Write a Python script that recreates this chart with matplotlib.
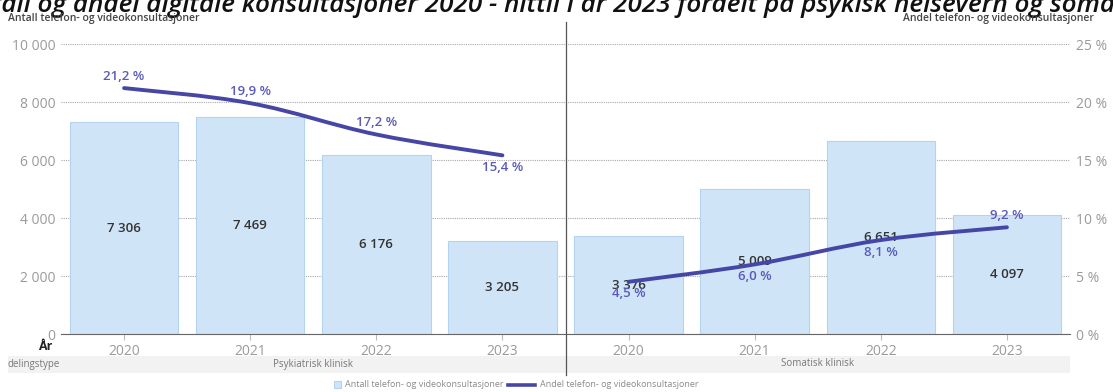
import numpy as np
import matplotlib
matplotlib.use("Agg")
import matplotlib.pyplot as plt
from matplotlib.path import Path
from matplotlib.patches import PathPatch, Rectangle
from matplotlib.lines import Line2D
from matplotlib.ticker import FuncFormatter

plt.rcParams['font.family'] = ['Open Sans', 'DejaVu Sans']

# --- data ---
years = ["2020", "2021", "2022", "2023", "2020", "2021", "2022", "2023"]
groups = ["Psykiatrisk klinisk", "Somatisk klinisk"]
antall = [7306, 7469, 6176, 3205, 3376, 5009, 6651, 4097]
andel_psyk = [21.2, 19.9, 17.2, 15.4]
andel_som = [4.5, 6.0, 8.1, 9.2]
andel_above = [True, True, True, False, False, False, False, True]

BAR_FILL = "#cfe4f7"
BAR_EDGE = "#b3d3f0"
LINE_COL = "#4646a6"
PCT_COL = "#5a5abb"
GREY = "#9a9a9a"


def fmt_num(v):
    return f"{v:,.0f}".replace(",", " ")


def smooth_path(xs, ys, k=0.18):
    # cubic bezier through the points (display style only)
    pts = np.column_stack([xs, ys])
    verts = [pts[0]]
    codes = [Path.MOVETO]
    n = len(pts)
    for i in range(n - 1):
        p0 = pts[max(i - 1, 0)]
        p1 = pts[i]
        p2 = pts[i + 1]
        p3 = pts[min(i + 2, n - 1)]
        c1 = p1 + (p2 - p0) * k
        c2 = p2 - (p3 - p1) * k
        verts += [c1, c2, p2]
        codes += [Path.CURVE4] * 3
    return Path(verts, codes)


fig = plt.figure(figsize=(11.13, 3.92), dpi=100)
W, H = 1113, 392
ax = fig.add_axes([61 / W, 1 - 334 / H, 1009 / W, 290 / H])
ax2 = ax.twinx()

x = np.arange(len(antall))
ax.bar(x, antall, width=0.86, color=BAR_FILL, edgecolor=BAR_EDGE, linewidth=0.8, zorder=2)
for xi, v in zip(x, antall):
    ax.text(xi, v / 2, fmt_num(v), ha="center", va="center", fontsize=9.5,
            color="#333333", fontweight="semibold", zorder=5)

ax.set_xlim(-0.5, len(antall) - 0.5)
ax.set_ylim(0, 10000)
ax.set_yticks(np.arange(0, 10001, 2000))
ax.yaxis.set_major_formatter(FuncFormatter(lambda v, p: fmt_num(v)))
ax.set_xticks(x)
ax.set_xticklabels(years)
ax.tick_params(axis="x", colors="#bbbbbb", labelcolor=GREY, labelsize=10, length=4, pad=3)
ax.tick_params(axis="y", length=0, labelcolor=GREY, labelsize=10, pad=4)
ax.grid(axis="y", color="#a8a8a8", linestyle=(0, (1, 1)), linewidth=0.8, zorder=0)
for s in ["top", "right", "left"]:
    ax.spines[s].set_visible(False)
ax.spines["bottom"].set_color("#666666")
ax.spines["bottom"].set_zorder(4)

ax2.set_ylim(0, 25)
ax2.set_yticks(np.arange(0, 26, 5))
ax2.yaxis.set_major_formatter(FuncFormatter(lambda v, p: f"{v:.0f} %"))
ax2.tick_params(axis="y", length=0, labelcolor=GREY, labelsize=10, pad=4)
for s in ax2.spines.values():
    s.set_visible(False)

andel_all = andel_psyk + andel_som
for seg_x, seg_y in [(x[:4], andel_psyk), (x[4:], andel_som)]:
    path = smooth_path(np.asarray(seg_x, float), np.asarray(seg_y, float))
    ax2.add_patch(PathPatch(path, facecolor="none", edgecolor=LINE_COL,
                            linewidth=2.8, capstyle="round", zorder=4))
for xi, v, up in zip(x, andel_all, andel_above):
    off = 4 if up else -4
    ax2.annotate(f"{v:.1f} %".replace(".", ","), (xi, v), xytext=(0, off),
                 textcoords="offset points", ha="center",
                 va="bottom" if up else "top", fontsize=9.5, color=PCT_COL,
                 fontweight="semibold", zorder=6)

# --- figure-level decorations ---
fig.text(-38 / W, 1 - 12 / H,
         "Antall og andel digitale konsultasjoner 2020 - hittil i år 2023 fordelt på psykisk helsevern og somatikk",
         fontsize=18.8, style="italic", fontweight="semibold", color="#111111",
         ha="left", va="baseline")
fig.text(8 / W, 1 - 18 / H, "Antall telefon- og videokonsultasjoner", fontsize=7.5,
         color="#444444", fontweight="semibold", ha="left", va="center")
fig.text(1094 / W, 1 - 18 / H, "Andel telefon- og videokonsultasjoner", fontsize=7.5,
         color="#444444", fontweight="semibold", ha="right", va="center")
fig.text(45 / W, 1 - 346 / H, "År", fontsize=9, fontweight="bold", color="#222222",
         ha="center", va="center")

# group band
fig.add_artist(Rectangle((8 / W, 1 - 373 / H), (1070 - 8) / W, 17 / H,
                         transform=fig.transFigure, facecolor="#f2f2f2", edgecolor="none", zorder=0))
fig.text(8 / W, 1 - 364 / H, "delingstype", fontsize=7, color="#777777", ha="left", va="center")
for gi, g in enumerate(groups):
    cx = ax.transData.transform((1.5 + 4 * gi, 0))[0] / W
    fig.text(cx, 1 - 364 / H, g, fontsize=7, color="#777777", ha="center", va="center")

# separator between groups
sep_x = ax.transData.transform((3.5, 0))[0] / W
fig.add_artist(Line2D([sep_x, sep_x], [1 - 375 / H, 1 - 22 / H], transform=fig.transFigure,
                      color="#555555", linewidth=0.9))

# legend
fig.add_artist(Rectangle((334 / W, 1 - 388 / H), 7 / W, 7 / H, transform=fig.transFigure,
                         facecolor=BAR_FILL, edgecolor=BAR_EDGE, linewidth=0.8))
fig.text(345 / W, 1 - 384.5 / H, "Antall telefon- og videokonsultasjoner", fontsize=6.5,
         color="#8a8a8a", ha="left", va="center")
fig.add_artist(Line2D([508 / W, 535 / W], [1 - 384.5 / H] * 2, transform=fig.transFigure,
                      color=LINE_COL, linewidth=2.6))
fig.text(540 / W, 1 - 384.5 / H, "Andel telefon- og videokonsultasjoner", fontsize=6.5,
         color="#8a8a8a", ha="left", va="center")

fig.savefig("out.png", dpi=100)
